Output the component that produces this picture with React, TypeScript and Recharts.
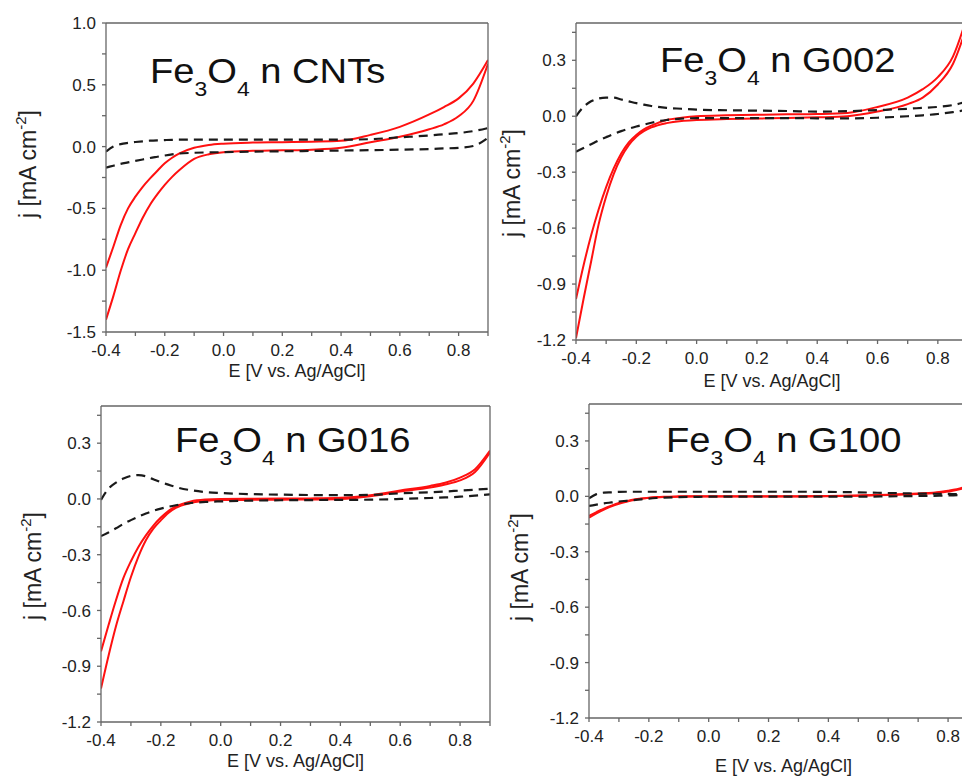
import React from 'react';
import { LineChart, Line, XAxis, YAxis } from 'recharts';

// potential grid (V vs. Ag/AgCl), shared by every curve
const potential = [-0.4, -0.375, -0.35, -0.325, -0.3, -0.275, -0.25, -0.225, -0.2, -0.175, -0.15, -0.1, -0.05, 0, 0.1, 0.2, 0.3, 0.4, 0.5, 0.6, 0.7, 0.75, 0.8, 0.85, 0.9];

// Fe3O4 n CNTs
const cntRedUpper = [-0.98, -0.81, -0.635, -0.5, -0.405, -0.325, -0.257, -0.195, -0.135, -0.09, -0.055, -0.01, 0.013, 0.024, 0.033, 0.036, 0.04, 0.047, 0.095, 0.16, 0.26, 0.32, 0.39, 0.51, 0.7];
const cntRedLower = [-1.4, -1.21, -1.005, -0.83, -0.7, -0.575, -0.47, -0.385, -0.31, -0.245, -0.19, -0.1, -0.062, -0.045, -0.034, -0.03, -0.025, -0.01, 0.035, 0.08, 0.14, 0.18, 0.245, 0.37, 0.67];
const cntDashUpper = [-0.04, 0.0, 0.02, 0.03, 0.037, 0.043, 0.048, 0.051, 0.053, 0.055, 0.056, 0.057, 0.057, 0.057, 0.057, 0.056, 0.056, 0.056, 0.06, 0.075, 0.09, 0.1, 0.11, 0.125, 0.15];
const cntDashLower = [-0.17, -0.155, -0.14, -0.128, -0.116, -0.104, -0.092, -0.082, -0.072, -0.063, -0.056, -0.05, -0.047, -0.045, -0.041, -0.038, -0.035, -0.032, -0.029, -0.025, -0.02, -0.015, -0.01, 0.005, 0.07];

// Fe3O4 n G002
const g002RedUpper = [-0.98, -0.8, -0.64, -0.5, -0.38, -0.28, -0.2, -0.14, -0.1, -0.07, -0.05, -0.02, -0.008, 0.0, 0.005, 0.008, 0.01, 0.012, 0.018, 0.05, 0.1, 0.145, 0.21, 0.32, 0.55];
const g002RedLower = [-1.19, -0.98, -0.78, -0.58, -0.43, -0.31, -0.22, -0.155, -0.11, -0.08, -0.06, -0.037, -0.025, -0.02, -0.015, -0.012, -0.01, -0.006, 0.0, 0.025, 0.065, 0.1, 0.17, 0.28, 0.5];
const g002DashUpper = [0.0, 0.05, 0.08, 0.095, 0.1, 0.1, 0.09, 0.08, 0.07, 0.062, 0.055, 0.045, 0.04, 0.035, 0.032, 0.03, 0.028, 0.025, 0.027, 0.033, 0.04, 0.045, 0.05, 0.06, 0.08];
const g002DashLower = [-0.19, -0.17, -0.15, -0.13, -0.112, -0.095, -0.08, -0.067, -0.055, -0.045, -0.035, -0.02, -0.013, -0.01, -0.01, -0.01, -0.01, -0.011, -0.012, -0.008, 0.0, 0.005, 0.012, 0.022, 0.035];

// Fe3O4 n G016
const g016RedUpper = [-0.82, -0.68, -0.545, -0.425, -0.335, -0.258, -0.196, -0.143, -0.1, -0.065, -0.04, -0.013, -0.003, 0.0, 0.001, 0.002, 0.003, 0.006, 0.02, 0.045, 0.07, 0.087, 0.115, 0.16, 0.26];
const g016RedLower = [-1.02, -0.845, -0.685, -0.55, -0.42, -0.31, -0.222, -0.16, -0.115, -0.075, -0.048, -0.022, -0.01, -0.006, -0.005, -0.004, -0.003, 0.0, 0.015, 0.04, 0.062, 0.078, 0.1, 0.145, 0.25];
const g016DashUpper = [-0.005, 0.055, 0.088, 0.11, 0.124, 0.128, 0.122, 0.106, 0.09, 0.077, 0.064, 0.047, 0.037, 0.032, 0.026, 0.023, 0.021, 0.02, 0.022, 0.03, 0.036, 0.04, 0.045, 0.05, 0.055];
const g016DashLower = [-0.2, -0.18, -0.158, -0.134, -0.114, -0.095, -0.078, -0.064, -0.052, -0.042, -0.034, -0.022, -0.016, -0.013, -0.009, -0.007, -0.006, -0.005, -0.004, 0.0, 0.005, 0.008, 0.012, 0.018, 0.025];

// Fe3O4 n G100
const g100RedUpper = [-0.105, -0.085, -0.066, -0.05, -0.036, -0.026, -0.017, -0.011, -0.007, -0.004, -0.002, 0.0, 0.001, 0.001, 0.001, 0.001, 0.001, 0.002, 0.005, 0.009, 0.016, 0.02, 0.03, 0.048, 0.085];
const g100RedLower = [-0.115, -0.092, -0.072, -0.054, -0.04, -0.029, -0.02, -0.013, -0.009, -0.006, -0.004, -0.002, -0.001, -0.001, -0.001, -0.001, -0.001, 0.0, 0.003, 0.007, 0.013, 0.017, 0.026, 0.043, 0.078];
const g100DashUpper = [-0.01, 0.012, 0.02, 0.022, 0.024, 0.025, 0.025, 0.025, 0.025, 0.025, 0.025, 0.025, 0.025, 0.025, 0.025, 0.025, 0.025, 0.024, 0.022, 0.018, 0.015, 0.014, 0.013, 0.012, 0.012];
const g100DashLower = [-0.052, -0.045, -0.038, -0.033, -0.028, -0.024, -0.02, -0.016, -0.012, -0.009, -0.007, -0.004, -0.003, -0.002, -0.002, -0.002, -0.002, -0.002, -0.002, 0.0, 0.002, 0.003, 0.005, 0.007, 0.01];

// ticks (major + minor, labels only on majors)
const xTicks = [-0.4, -0.3, -0.2, -0.1, 0, 0.1, 0.2, 0.3, 0.4, 0.5, 0.6, 0.7, 0.8, 0.9];
const yTicksCnt = [-1.5, -1.25, -1.0, -0.75, -0.5, -0.25, 0, 0.25, 0.5, 0.75, 1.0];
const yTicksG = [-1.2, -1.05, -0.9, -0.75, -0.6, -0.45, -0.3, -0.15, 0, 0.15, 0.3, 0.45];

const FONT = '"Liberation Sans", Arial, sans-serif';
const axisStyle = { stroke: '#666', strokeWidth: 1.3 };
const tickStyle = { fill: '#222', fontSize: 17, fontFamily: FONT };

const fmtX = (v: number) => (Math.round(v * 10) % 2 === 0 ? v.toFixed(1) : '');
const fmtCnt = (v: number) => (Math.round(v * 4) % 2 === 0 ? v.toFixed(1) : '');
const fmtG = (v: number) => (Math.round(v / 0.15) % 2 === 0 ? v.toFixed(1) : '');

const toPoints = (js: number[]) => potential.map((e, i) => ({ E: e, j: js[i] }));

type PanelProps = {
  left: number;
  top: number;
  width: number;
  height: number;
  margin: { top: number; right: number; bottom: number; left: number };
  yDomain: [number, number];
  yTicks: number[];
  fmtY: (v: number) => string;
  red: number[][];
  dashed: number[][];
  name: string;
  titleAt: [number, number];
  yTitleAt: [number, number];
  xTitleDy: number;
};

function Title({ x, y, name }: { x: number; y: number; name: string }) {
  return (
    <text transform={`translate(${x},${y}) scale(1.09,1)`} fontSize={35} fontFamily={FONT} fill="#111">
      Fe
      <tspan fontSize={21} dy={13}>3</tspan>
      <tspan dy={-13}>O</tspan>
      <tspan fontSize={21} dy={13}>4</tspan>
      <tspan dy={-13}>{' n ' + name}</tspan>
    </text>
  );
}

function Panel(p: PanelProps) {
  return (
    <div style={{ position: 'absolute', left: p.left, top: p.top }}>
      <LineChart width={p.width} height={p.height} margin={p.margin}>
        <XAxis
          xAxisId="x"
          type="number"
          dataKey="E"
          domain={[-0.4, 0.9]}
          allowDataOverflow
          ticks={xTicks}
          interval={0}
          tickFormatter={fmtX}
          height={50}
          tickSize={4}
          tickMargin={8}
          axisLine={axisStyle}
          tickLine={axisStyle}
          tick={tickStyle}
          label={(lp: any) => {
            const vb = lp.viewBox;
            return (
              <text x={vb.x + vb.width / 2} y={vb.y + p.xTitleDy} textAnchor="middle" dominantBaseline="central" fontSize={18} fontFamily={FONT} fill="#222">
                E [V vs. Ag/AgCl]
              </text>
            );
          }}
        />
        <XAxis
          xAxisId="top"
          orientation="top"
          type="number"
          domain={[-0.4, 0.9]}
          allowDataOverflow
          ticks={[-0.4]}
          height={1}
          tick={false}
          tickLine={false}
          axisLine={axisStyle}
          label={() => <Title x={p.titleAt[0]} y={p.titleAt[1]} name={p.name} />}
        />
        <YAxis
          yAxisId="y"
          type="number"
          domain={p.yDomain}
          allowDataOverflow
          ticks={p.yTicks}
          interval={0}
          tickFormatter={p.fmtY}
          width={60}
          tickSize={4}
          tickMargin={6}
          axisLine={axisStyle}
          tickLine={axisStyle}
          tick={tickStyle}
          label={() => (
            <text
              transform={`translate(${p.yTitleAt[0]},${p.yTitleAt[1]}) rotate(-90)`}
              textAnchor="middle"
              dominantBaseline="central"
              fontSize={23}
              fontFamily={FONT}
              fill="#222"
            >
              j [mA cm
              <tspan fontSize={15} dy={-8}>-2</tspan>
              <tspan dy={8}>]</tspan>
            </text>
          )}
        />
        <YAxis
          yAxisId="right"
          orientation="right"
          type="number"
          domain={p.yDomain}
          allowDataOverflow
          ticks={[0]}
          width={1}
          tick={false}
          tickLine={false}
          axisLine={axisStyle}
        />
        {p.red.map((js, i) => (
          <Line
            key={'r' + i}
            xAxisId="x"
            yAxisId="y"
            data={toPoints(js)}
            dataKey="j"
            type="monotone"
            stroke="#ff1010"
            strokeWidth={2}
            dot={false}
            isAnimationActive={false}
          />
        ))}
        {p.dashed.map((js, i) => (
          <Line
            key={'d' + i}
            xAxisId="x"
            yAxisId="y"
            data={toPoints(js)}
            dataKey="j"
            type="monotone"
            stroke="#1a1a1a"
            strokeWidth={2.2}
            strokeDasharray="9 6"
            dot={false}
            isAnimationActive={false}
          />
        ))}
      </LineChart>
    </div>
  );
}

export default function App() {
  return (
    <div style={{ position: 'absolute', left: 0, top: 0, width: 962, height: 777, overflow: 'hidden', background: '#fff' }}>
      <Panel
        left={0}
        top={0}
        width={500}
        height={390}
        margin={{ top: 22, right: 11, bottom: 8, left: 46 }}
        yDomain={[-1.5, 1.0]}
        yTicks={yTicksCnt}
        fmtY={fmtCnt}
        red={[cntRedUpper, cntRedLower]}
        dashed={[cntDashUpper, cntDashLower]}
        name="CNTs"
        titleAt={[150, 83]}
        yTitleAt={[28, 164]}
        xTitleDy={39}
      />
      <Panel
        left={490}
        top={0}
        width={490}
        height={400}
        margin={{ top: 22, right: 11, bottom: 10, left: 26 }}
        yDomain={[-1.2, 0.5]}
        yTicks={yTicksG}
        fmtY={fmtG}
        red={[g002RedUpper, g002RedLower]}
        dashed={[g002DashUpper, g002DashLower]}
        name="G002"
        titleAt={[170, 72]}
        yTitleAt={[22, 183]}
        xTitleDy={41}
      />
      <Panel
        left={0}
        top={390}
        width={500}
        height={387}
        margin={{ top: 15, right: 9, bottom: 5, left: 41 }}
        yDomain={[-1.2, 0.5]}
        yTicks={yTicksG}
        fmtY={fmtG}
        red={[g016RedUpper, g016RedLower]}
        dashed={[g016DashUpper, g016DashLower]}
        name="G016"
        titleAt={[175, 62]}
        yTitleAt={[33, 176]}
        xTitleDy={39}
      />
      <Panel
        left={490}
        top={390}
        width={500}
        height={387}
        margin={{ top: 13, right: 11, bottom: 9, left: 39 }}
        yDomain={[-1.2, 0.5]}
        yTicks={yTicksG}
        fmtY={fmtG}
        red={[g100RedUpper, g100RedLower]}
        dashed={[g100DashUpper, g100DashLower]}
        name="G100"
        titleAt={[176, 62]}
        yTitleAt={[30, 177]}
        xTitleDy={48}
      />
    </div>
  );
}
